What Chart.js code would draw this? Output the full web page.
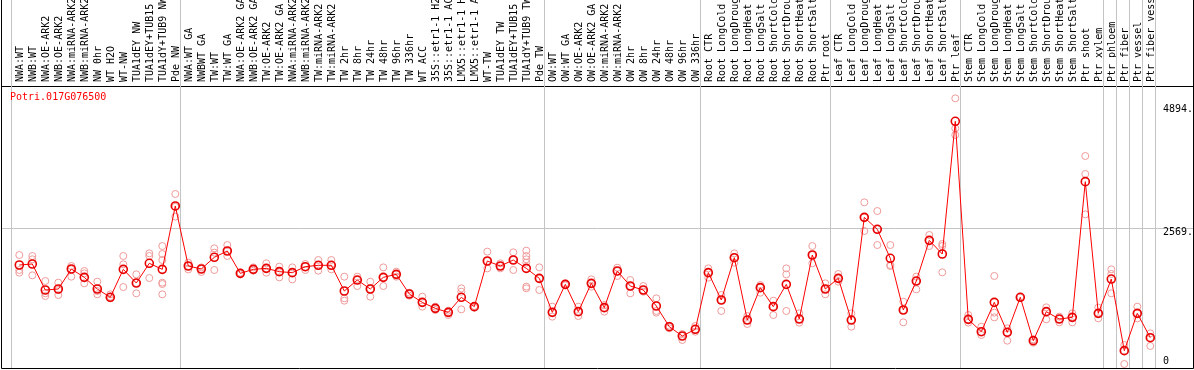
<!DOCTYPE html>
<html>
<head>
<meta charset="utf-8">
<script src="https://cdn.jsdelivr.net/npm/chart.js@4.4.1/dist/chart.umd.min.js"></script>
<style>
  html, body { margin: 0; padding: 0; background: #fff; }
  #wrap { width: 1194px; height: 370px; }
</style>
</head>
<body>
<div id="wrap"><canvas id="chart" width="1194" height="370"></canvas></div>
<script>
// ── Data ─────────────────────────────────────────────────────────────
const geneId = 'Potri.017G076500';

const samples = [
  'NWA:WT', 'NWB:WT', 'NWA:OE-ARK2', 'NWB:OE-ARK2', 'NWA:miRNA-ARK2', 'NWB:miRNA-ARK2',
  'NW 0hr', 'WT H2O', 'WT-NW', 'TUA1dEY NW', 'TUA1dEY+TUB15 NW', 'TUA1dY+TUB9 NW', 'Pde NW',
  'NWA:WT GA', 'NWBWT GA', 'TW:WT', 'TW:WT GA', 'NWA:OE-ARK2 GA', 'NWB:OE-ARK2 GA',
  'TW:OE-ARK2', 'TW:OE-ARK2 GA', 'NWA:miRNA-ARK2 GA', 'NWB:miRNA-ARK2 GA', 'TW:miRNA-ARK2',
  'TW:miRNA-ARK2 GA', 'TW 2hr', 'TW 8hr', 'TW 24hr', 'TW 48hr', 'TW 96hr', 'TW 336hr',
  'WT ACC', '35S::etr1-1 H2O', '35S::etr1-1 ACC', 'LMX5::etr1-1 H2O', 'LMX5::etr1-1 ACC',
  'WT-TW', 'TUA1dEY TW', 'TUA1dEY+TUB15 TW', 'TUA1dY+TUB9 TW', 'Pde TW',
  'OW:WT', 'OW:WT GA', 'OW:OE-ARK2', 'OW:OE-ARK2 GA', 'OW:miRNA-ARK2', 'OW:miRNA-ARK2 GA',
  'OW 2hr', 'OW 8hr', 'OW 24hr', 'OW 48hr', 'OW 96hr', 'OW 336hr',
  'Root CTR', 'Root LongCold', 'Root LongDrought', 'Root LongHeat', 'Root LongSalt',
  'Root ShortCold', 'Root ShortDrought', 'Root ShortHeat', 'Root ShortSalt', 'Ptr root',
  'Leaf CTR', 'Leaf LongCold', 'Leaf LongDrought', 'Leaf LongHeat', 'Leaf LongSalt',
  'Leaf ShortCold', 'Leaf ShortDrought', 'Leaf ShortHeat', 'Leaf ShortSalt', 'Ptr leaf',
  'Stem CTR', 'Stem LongCold', 'Stem LongDrought', 'Stem LongHeat', 'Stem LongSalt',
  'Stem ShortCold', 'Stem ShortDrought', 'Stem ShortHeat', 'Stem ShortSalt', 'Ptr shoot',
  'Ptr xylem', 'Ptr phloem', 'Ptr fiber', 'Ptr vessel', 'Ptr fiber vessel',
];

const means = [
  1884, 1903, 1408, 1427, 1808, 1649, 1427, 1269, 1801, 1541, 1916, 1801, 3007,
  1865, 1808, 2030, 2150, 1725, 1801, 1820, 1757, 1738, 1852, 1878, 1878,
  1389, 1598, 1427, 1649, 1706, 1332, 1173, 1059, 983, 1269, 1091,
  1960, 1865, 1979, 1820, 1630,
  983, 1516, 996, 1535, 1072, 1770, 1484, 1408, 1104, 710, 533, 660,
  1738, 1218, 2023, 837, 1453, 1091, 1516, 856, 2074, 1427,
  1630, 837, 2791, 2563, 2011, 1028, 1579, 2353, 2093, 4618,
  850, 615, 1173, 603, 1269, 444, 996, 856, 888, 3470,
  964, 1617, 254, 964, 501,
];

const replicates = [
  [2074, 1789, 1738], [2055, 1992, 1687], [1579, 1345, 1294], [1548, 1408, 1313],
  [1865, 1801, 1662], [1770, 1725, 1535], [1567, 1389, 1326], [1326, 1281, 1250],
  [2055, 1897, 1465], [1706, 1541, 1345], [2106, 2055, 1636],
  [2245, 2093, 1979, 1548, 1522, 1326], [3235, 2990, 2804],
  [1928, 1865, 1801], [1839, 1808, 1751], [2201, 2119, 1789], [2264, 2150, 2055],
  [1738, 1725, 1706], [1839, 1801, 1776], [1916, 1820, 1738], [1852, 1757, 1649],
  [1839, 1738, 1611], [1903, 1852, 1789], [1979, 1878, 1776], [1979, 1878, 1801],
  [1662, 1250, 1205], [1662, 1598, 1484], [1567, 1427, 1281], [1839, 1649, 1484],
  [1757, 1706, 1662], [1357, 1332, 1300], [1281, 1173, 1091], [1091, 1059, 1028],
  [1015, 983, 932], [1440, 1376, 1040], [1104, 1091, 1072],
  [2138, 1960, 1820], [1916, 1865, 1820], [2125, 1979, 1789],
  [2157, 2055, 1992, 1928, 1472, 1440], [1839, 1630, 1408],
  [1091, 983, 901], [1535, 1516, 1497], [1091, 996, 913], [1611, 1535, 1472],
  [1123, 1072, 996], [1833, 1770, 1675], [1598, 1484, 1345], [1484, 1408, 1376],
  [1250, 1009, 977], [729, 710, 679], [571, 533, 457], [723, 660, 615],
  [1820, 1738, 1643], [1313, 1218, 1009], [2106, 2023, 1928], [913, 837, 761],
  [1503, 1453, 1357], [1205, 1091, 932], [1820, 1706, 1009], [964, 856, 787],
  [2245, 2074, 1916], [1535, 1427, 1326],
  [1713, 1630, 1567], [964, 837, 710], [3076, 2791, 2531], [2911, 2563, 2264],
  [2264, 1884, 1865], [1186, 1028, 793], [1662, 1579, 1421], [2455, 2353, 2245],
  [2283, 2245, 1744], [5055, 4484, 4358],
  [932, 850, 787], [710, 615, 552], [1675, 977, 888], [679, 603, 444],
  [1269, 1269, 1269], [469, 444, 406], [1078, 996, 850], [901, 856, 793],
  [964, 888, 793], [3958, 3616, 2848],
  [1072, 964, 869], [1801, 1713, 1345], [362, 254, 0], [1091, 964, 869], [584, 501, 343],
];

// sample groups end after these indices (gray separators)
const groupEnds = [-1, 12, 40, 52, 62, 72, 83, 84, 85, 86, 87];

const yTicks = [0, 2569, 4894];
const yTickLabels = [['0', ''], '2569.', '4894.'];

// ── Styling ──────────────────────────────────────────────────────────
const FONT = { family: '"DejaVu Sans Mono", monospace', size: 10 };
const SEP = '#c4c4c4';

const overlay = {
  id: 'overlay',
  beforeDatasetsDraw(chart) {
    const { ctx, chartArea, scales: { x } } = chart;
    ctx.save();
    ctx.strokeStyle = SEP;
    ctx.lineWidth = 1;
    groupEnds.forEach(g => {
      const px = Math.round(x.getPixelForValue(g + 0.38)) + 0.5;
      ctx.beginPath();
      ctx.moveTo(px, 0);
      ctx.lineTo(px, chartArea.bottom);
      ctx.stroke();
    });
    ctx.restore();
  },
  afterDraw(chart) {
    const { ctx, chartArea } = chart;
    ctx.save();
    ctx.strokeStyle = '#000';
    ctx.lineWidth = 1;
    ctx.beginPath();
    ctx.moveTo(1.5, 0);
    ctx.lineTo(1.5, chartArea.bottom - 0.5);
    ctx.lineTo(chartArea.right + 0.5, chartArea.bottom - 0.5);
    ctx.lineTo(chartArea.right + 0.5, 0);
    ctx.stroke();
    ctx.fillStyle = '#ff0000';
    ctx.font = `${FONT.size}px ${FONT.family}`;
    ctx.textBaseline = 'alphabetic';
    ctx.fillText(geneId, 10, 100);
    ctx.restore();
  },
};

const meanPoints = means.map((v, i) => ({ x: i, y: v }));
const repPoints = replicates.flatMap((r, i) => r.map(v => ({ x: i, y: v })));

new Chart(document.getElementById('chart'), {
  type: 'scatter',
  data: {
    datasets: [
      {
        type: 'line', label: geneId, data: meanPoints, order: 0,
        borderColor: '#ff0000', borderWidth: 1, tension: 0,
        pointRadius: 4, pointBorderWidth: 1.6, pointBorderColor: '#e80000',
        pointBackgroundColor: 'rgba(0,0,0,0)',
      },
      {
        type: 'scatter', label: 'replicates', data: repPoints, order: 1,
        pointRadius: 3.5, pointBorderWidth: 1, pointBorderColor: '#ef9a9a',
        pointBackgroundColor: 'rgba(0,0,0,0)',
      },
    ],
  },
  options: {
    responsive: false,
    animation: false,
    layout: { autoPadding: false, padding: { left: 2, right: 1, top: 0, bottom: 1 } },
    plugins: { legend: { display: false }, tooltip: { enabled: false } },
    scales: {
      x: {
        type: 'linear', position: 'top', min: -1.331, max: 90.285,
        afterBuildTicks: s => { s.ticks = samples.map((_, i) => ({ value: i })); },
        afterFit: s => { s.height = 86; s.paddingLeft = 0; s.paddingRight = 0; },
        grid: { display: false, drawTicks: false },
        border: { color: '#000', width: 1 },
        ticks: {
          autoSkip: false, minRotation: 90, maxRotation: 90, padding: 4, labelOffset: 13,
          color: '#000', font: FONT, callback: v => samples[v] ?? '',
        },
      },
      y: {
        position: 'right', min: -95, max: 5290,
        afterBuildTicks: s => { s.ticks = yTicks.map(v => ({ value: v })); },
        afterFit: s => { s.width = 0; s.paddingTop = 0; s.paddingBottom = 0; },
        grid: {
          drawTicks: false,
          color: c => (c.tick && c.tick.value === 2569 ? SEP : 'rgba(0,0,0,0)'),
        },
        border: { display: false },
        ticks: {
          mirror: true, crossAlign: 'far', padding: 0, labelOffset: 3,
          color: '#000', font: FONT,
          callback: v => yTickLabels[yTicks.indexOf(v)] ?? '',
        },
      },
    },
  },
  plugins: [overlay],
});
</script>
</body>
</html>
